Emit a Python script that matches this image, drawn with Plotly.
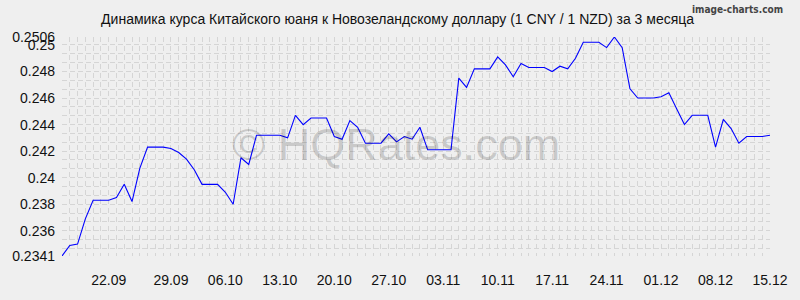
import plotly.graph_objects as go

# Daily values 15.09 .. 15.12 (92 days), index 0..91
rates = [
    0.2341, 0.2349, 0.2350, 0.2369, 0.2383, 0.2383, 0.2383, 0.2385, 0.2395, 0.2382,
    0.2407, 0.2423, 0.2423, 0.2423, 0.2422, 0.2419, 0.2414, 0.2406, 0.2395, 0.2395,
    0.2395, 0.2389, 0.2380, 0.2415, 0.2410, 0.2432, 0.2432, 0.2432, 0.2432, 0.2430,
    0.2447, 0.2440, 0.2445, 0.2445, 0.2445, 0.2431, 0.2429, 0.2443, 0.2438, 0.2426,
    0.2426, 0.2426, 0.2433, 0.2427, 0.2431, 0.2429, 0.2438, 0.2421, 0.2421, 0.2421,
    0.2421, 0.2475, 0.2468, 0.2482, 0.2482, 0.2482, 0.2491, 0.2485, 0.2476, 0.2486,
    0.2483, 0.2483, 0.2483, 0.2480, 0.2484, 0.2482, 0.2490, 0.2502, 0.2502, 0.2502,
    0.2498, 0.2506, 0.2498, 0.2467, 0.2460, 0.2460, 0.2460, 0.2461, 0.2464, 0.2452,
    0.2440, 0.2447, 0.2447, 0.2447, 0.2423, 0.2444, 0.2437, 0.2426, 0.2431, 0.2431,
    0.2431, 0.2432,
]
day_index = list(range(len(rates)))

x_tick_pos = [6, 14, 21, 28, 35, 42, 49, 56, 63, 70, 77, 84, 91]
x_tick_labels = ["22.09", "29.09", "06.10", "13.10", "20.10", "27.10", "03.11",
                 "10.11", "17.11", "24.11", "01.12", "08.12", "15.12"]

y_tick_vals = [0.2341, 0.236, 0.238, 0.24, 0.242, 0.244, 0.246, 0.248, 0.25, 0.2506]
y_tick_labels = ["0.2341", "0.236", "0.238", "0.24", "0.242", "0.244", "0.246",
                 "0.248", "0.25", "0.2506"]
y_min, y_max = 0.2341, 0.2506

title_text = "Динамика курса Китайского юаня к Новозеландскому доллару (1 CNY / 1 NZD) за 3 месяца"

FONT = "Liberation Sans, Arial, sans-serif"
GRID = "#d5d5d5"
XDASH = "5px,4px"
YDASH = "5px,3px"

fig = go.Figure()
fig.add_trace(go.Scatter(
    x=day_index, y=rates, mode="lines",
    line=dict(color="#0000ff", width=1.1),
    hoverinfo="skip", showlegend=False,
))

fig.update_layout(
    width=800, height=300,
    margin=dict(l=60, r=20, t=37, b=35),
    paper_bgcolor="#efefef", plot_bgcolor="#efefef",
    font=dict(family=FONT, size=14, color="#111"),
    title=dict(text=title_text, x=0.497, xanchor="center", y=0.935, yanchor="middle",
               font=dict(family=FONT, size=14, color="#111")),
    showlegend=False,
)

fig.update_xaxes(
    range=[0, len(rates) - 1],
    tickmode="array", tickvals=x_tick_pos, ticktext=x_tick_labels,
    showgrid=True, gridcolor=GRID, griddash=XDASH, gridwidth=1,
    minor=dict(tick0=0, dtick=1, showgrid=True, gridcolor=GRID, griddash=XDASH, gridwidth=1),
    showline=False, zeroline=False, ticks="", ticklabelstandoff=14,
    tickfont=dict(family=FONT, size=14, color="#111"),
)
fig.update_yaxes(
    range=[y_min, y_max],
    tickmode="array", tickvals=y_tick_vals, ticktext=y_tick_labels,
    showgrid=True, gridcolor=GRID, griddash=YDASH, gridwidth=1,
    minor=dict(tick0=0.25, dtick=0.002 / 3, showgrid=True, gridcolor=GRID, griddash=YDASH, gridwidth=1),
    showline=False, zeroline=False, ticks="", ticklabelstandoff=6,
    tickfont=dict(family=FONT, size=14, color="#111"),
)

fig.add_annotation(
    text="© HQRates.com", xref="paper", yref="paper", x=0.472, y=0.51,
    showarrow=False, font=dict(family=FONT, size=45, color="rgba(0,0,0,0.16)"),
)
fig.add_annotation(
    text="<b>image-charts.com</b>", xref="paper", yref="paper", x=1.021, y=1.125,
    xanchor="right", yanchor="middle", showarrow=False,
    font=dict(family="DejaVu Sans Condensed, DejaVu Sans", size=10, color="#444"),
)

fig.write_html("out.html")
